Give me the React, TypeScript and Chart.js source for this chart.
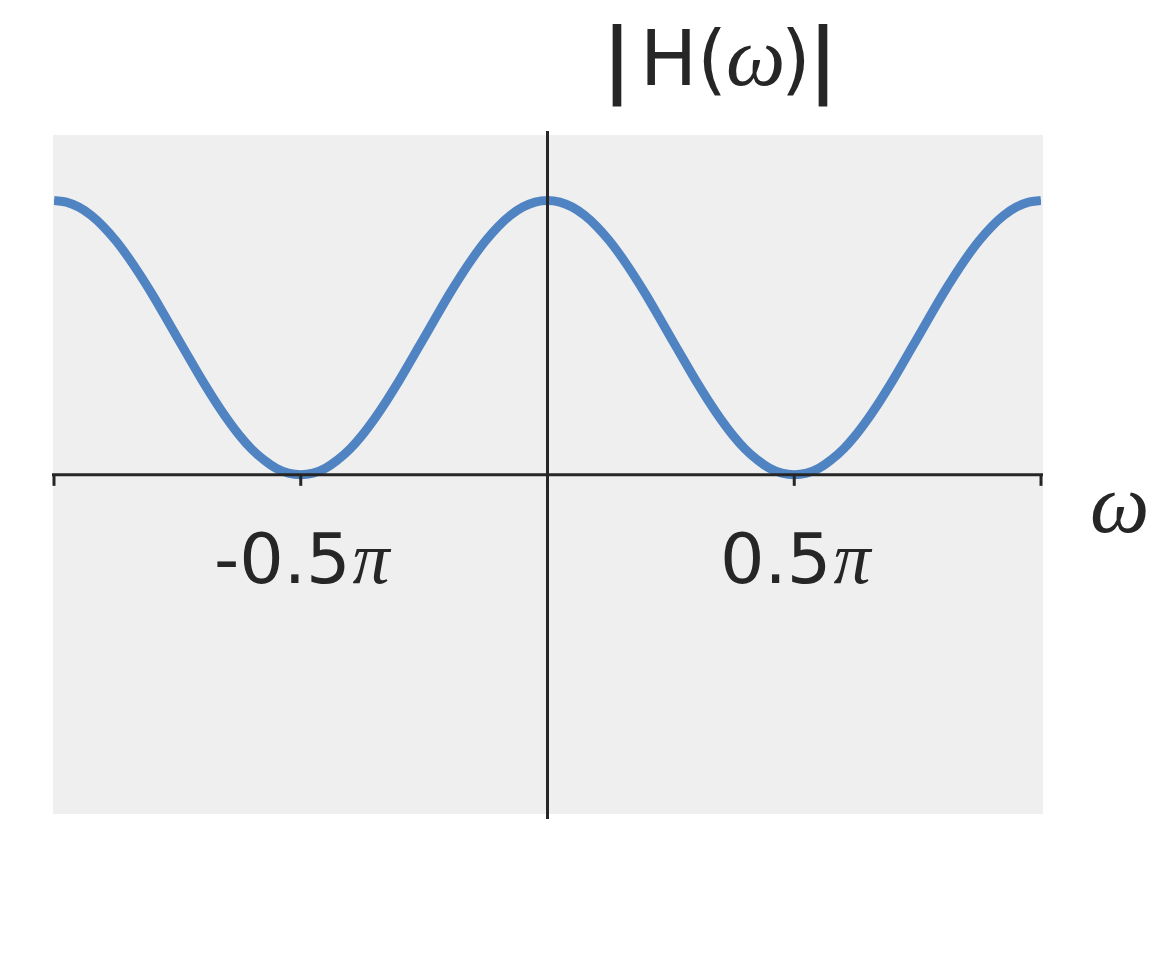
import React, { useEffect, useRef } from "react";
import { Chart, registerables } from "chart.js";

Chart.register(...registerables);

// Frequency in units of pi (from -pi to pi, step pi/40)
const omegaOverPi: number[] = [
  -1, -0.975, -0.95, -0.925, -0.9, -0.875, -0.85, -0.825, -0.8, -0.775,
  -0.75, -0.725, -0.7, -0.675, -0.65, -0.625, -0.6, -0.575, -0.55, -0.525,
  -0.5, -0.475, -0.45, -0.425, -0.4, -0.375, -0.35, -0.325, -0.3, -0.275,
  -0.25, -0.225, -0.2, -0.175, -0.15, -0.125, -0.1, -0.075, -0.05, -0.025,
  0, 0.025, 0.05, 0.075, 0.1, 0.125, 0.15, 0.175, 0.2, 0.225,
  0.25, 0.275, 0.3, 0.325, 0.35, 0.375, 0.4, 0.425, 0.45, 0.475,
  0.5, 0.525, 0.55, 0.575, 0.6, 0.625, 0.65, 0.675, 0.7, 0.725,
  0.75, 0.775, 0.8, 0.825, 0.85, 0.875, 0.9, 0.925, 0.95, 0.975, 1,
];
// |H(w)|
const magnitude: number[] = [
  1, 0.994, 0.976, 0.946, 0.905, 0.854, 0.794, 0.727, 0.655, 0.578,
  0.5, 0.422, 0.345, 0.273, 0.206, 0.146, 0.095, 0.055, 0.024, 0.006,
  0, 0.006, 0.024, 0.055, 0.095, 0.146, 0.206, 0.273, 0.345, 0.422,
  0.5, 0.578, 0.655, 0.727, 0.794, 0.854, 0.905, 0.946, 0.976, 0.994,
  1, 0.994, 0.976, 0.946, 0.905, 0.854, 0.794, 0.727, 0.655, 0.578,
  0.5, 0.422, 0.345, 0.273, 0.206, 0.146, 0.095, 0.055, 0.024, 0.006,
  0, 0.006, 0.024, 0.055, 0.095, 0.146, 0.206, 0.273, 0.345, 0.422,
  0.5, 0.578, 0.655, 0.727, 0.794, 0.854, 0.905, 0.946, 0.976, 0.994, 1,
];
const tickPositions: number[] = [-1, -0.5, 0, 0.5, 1]; // in units of pi
const tickLabels: string[] = ["", "-0.5", "", "0.5", ""];

const TEXT = "#262626";
const SANS = "'DejaVu Sans'";
const MATH = "'Liberation Serif'";

const decorPlugin = {
  id: "decor",
  beforeDatasetsDraw(chart: any) {
    const { ctx, chartArea } = chart;
    ctx.save();
    ctx.fillStyle = "#efefef";
    ctx.fillRect(chartArea.left - 1, chartArea.top, chartArea.right - chartArea.left + 3, chartArea.bottom - chartArea.top);
    ctx.restore();
  },
  afterDatasetsDraw(chart: any) {
    const { ctx, chartArea, scales } = chart;
    const xs = scales.x;
    const ys = scales.y;
    const y0 = ys.getPixelForValue(0);
    const x0 = xs.getPixelForValue(0);
    ctx.save();
    ctx.strokeStyle = TEXT;
    ctx.lineWidth = 3;
    ctx.lineCap = "butt";
    // x axis
    ctx.beginPath();
    ctx.moveTo(chartArea.left - 2, y0);
    ctx.lineTo(chartArea.right + 2, y0);
    ctx.stroke();
    // y axis
    ctx.beginPath();
    ctx.moveTo(x0, chartArea.top - 4);
    ctx.lineTo(x0, chartArea.bottom + 5);
    ctx.stroke();
    // ticks
    tickPositions.forEach((t) => {
      const px = xs.getPixelForValue(t * Math.PI);
      ctx.beginPath();
      ctx.moveTo(px, y0);
      ctx.lineTo(px, y0 + 11);
      ctx.stroke();
    });
    // tick labels
    ctx.fillStyle = TEXT;
    ctx.textBaseline = "alphabetic";
    ctx.textAlign = "left";
    tickPositions.forEach((t, i) => {
      const lab = tickLabels[i];
      if (!lab) return;
      const px = xs.getPixelForValue(t * Math.PI);
      ctx.font = `70px ${SANS}`;
      const w1 = ctx.measureText(lab).width;
      ctx.font = `italic 74px ${MATH}`;
      const w2 = ctx.measureText("π").width;
      const start = px - (w1 + w2) / 2;
      ctx.font = `70px ${SANS}`;
      ctx.fillText(lab, start, 583);
      ctx.font = `italic 74px ${MATH}`;
      ctx.fillText("π", start + w1 + 2, 583);
    });
    // x-axis label omega
    ctx.font = `italic 84px ${MATH}`;
    ctx.fillText("ω", 1090, 532);
    // title |H(w)|
    const base = 85;
    ctx.font = `80px ${SANS}`;
    ctx.textAlign = "center";
    ctx.lineWidth = 2;
    ctx.fillText("|", 617, base + 1);
    ctx.strokeText("|", 617, base + 1);
    ctx.fillText("|", 823, base + 1);
    ctx.strokeText("|", 823, base + 1);
    ctx.textAlign = "left";
    ctx.font = `76px ${SANS}`;
    ctx.fillText("H(", 640, base);
    ctx.fillText(")", 781, base);
    ctx.font = `italic 84px ${MATH}`;
    ctx.fillText("ω", 726, base);
    ctx.restore();
  },
};

export default function App() {
  const ref = useRef<HTMLCanvasElement | null>(null);
  useEffect(() => {
    document.body.style.margin = "0";
    const canvas = ref.current!;
    const points = omegaOverPi.map((w, i) => ({ x: w * Math.PI, y: magnitude[i] }));
    const chart = new Chart(canvas, {
      type: "line",
      data: {
        datasets: [
          {
            data: points,
            borderColor: "#4f83c2",
            borderWidth: 9,
            pointRadius: 0,
            tension: 0.4,
            fill: false,
          },
        ],
      },
      options: {
        animation: false,
        responsive: false,
        devicePixelRatio: 1,
        layout: { padding: { left: 54, right: 111, top: 135, bottom: 146 } },
        plugins: { legend: { display: false }, title: { display: false }, tooltip: { enabled: false } },
        scales: {
          x: { type: "linear", min: -Math.PI, max: Math.PI, display: false },
          y: { type: "linear", min: -1.236, max: 1.2386, display: false },
        },
      },
      plugins: [decorPlugin],
    });
    return () => chart.destroy();
  }, []);
  return (
    <canvas
      ref={ref}
      width={1152}
      height={960}
      style={{ display: "block", position: "absolute", left: 0, top: 0, width: 1152, height: 960 }}
    />
  );
}
